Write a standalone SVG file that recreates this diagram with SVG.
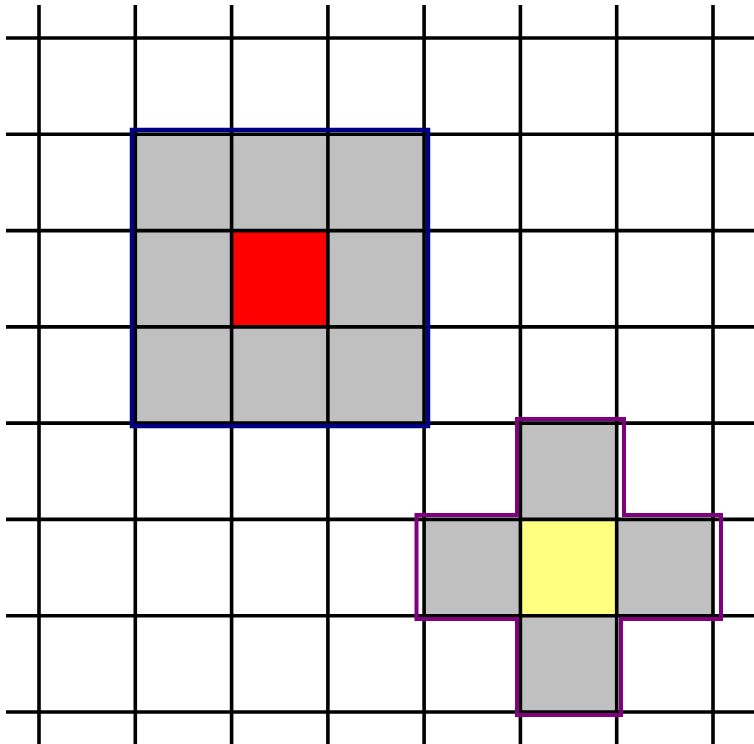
<svg xmlns="http://www.w3.org/2000/svg" width="754" height="744" viewBox="0 0 754 744">
<style>
.cell{fill:#c0c0c0;stroke:none}
.grid line{stroke:#000;stroke-width:3.6}
</style>
<rect width="754" height="744" fill="#fff"/>
<g id="fills">
<rect class="cell" x="135.3" y="134.3" width="288.8" height="288.8"/>
<rect x="231.6" y="230.6" width="96.3" height="96.3" fill="#ff0000"/>
<rect class="cell" x="520.4" y="423.1" width="96.3" height="96.3"/>
<rect class="cell" x="424.1" y="519.4" width="96.3" height="96.3"/>
<rect x="520.4" y="519.4" width="96.3" height="96.3" fill="#ffff80"/>
<rect class="cell" x="616.7" y="519.4" width="96.3" height="96.3"/>
<rect class="cell" x="520.4" y="615.7" width="96.3" height="96.3"/>
</g>
<g class="grid" id="grid">
<line x1="39" y1="5" x2="39" y2="744"/>
<line x1="135.3" y1="5" x2="135.3" y2="744"/>
<line x1="231.6" y1="5" x2="231.6" y2="744"/>
<line x1="327.9" y1="5" x2="327.9" y2="744"/>
<line x1="424.1" y1="5" x2="424.1" y2="744"/>
<line x1="520.4" y1="5" x2="520.4" y2="744"/>
<line x1="616.7" y1="5" x2="616.7" y2="744"/>
<line x1="713" y1="5" x2="713" y2="744"/>
<line x1="6" y1="38" x2="754" y2="38"/>
<line x1="6" y1="134.3" x2="754" y2="134.3"/>
<line x1="6" y1="230.6" x2="754" y2="230.6"/>
<line x1="6" y1="326.9" x2="754" y2="326.9"/>
<line x1="6" y1="423.1" x2="754" y2="423.1"/>
<line x1="6" y1="519.4" x2="754" y2="519.4"/>
<line x1="6" y1="615.7" x2="754" y2="615.7"/>
<line x1="6" y1="712" x2="754" y2="712"/>
</g>
<g id="square">
<rect x="132" y="130" width="296" height="296" fill="none" stroke="#000080" stroke-width="4.5"/>
</g>
<g id="cross">
<path d="M517 419 H624 V515 H721 V619 H621 V715 H517 V619 H416.5 V515 H517 Z" fill="none" stroke="#800080" stroke-width="4"/>
</g>
</svg>
